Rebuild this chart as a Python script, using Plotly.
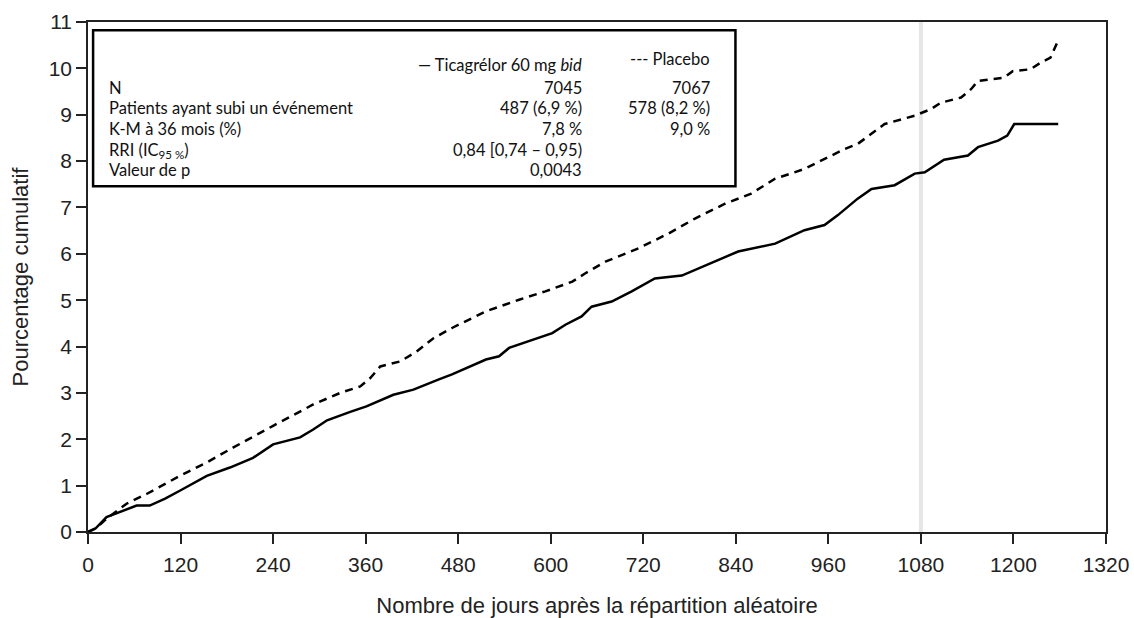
import plotly.graph_objects as go

# ---- data ----
ticag_days = [0, 10, 24, 45, 63, 80, 100, 119, 154, 184, 214, 240, 275, 292, 310, 340, 361, 396, 422,
              455, 472, 516, 533, 546, 602, 619, 640, 653, 679, 705, 735, 770, 796, 843, 891, 929, 955,
              972, 998, 1016, 1046, 1072, 1085, 1110, 1141, 1154, 1180, 1192, 1201, 1258]
ticag_vals = [0, 0.08, 0.32, 0.45, 0.57, 0.57, 0.72, 0.89, 1.21, 1.39, 1.60, 1.89, 2.04, 2.21, 2.41, 2.59,
              2.71, 2.96, 3.07, 3.29, 3.40, 3.72, 3.79, 3.97, 4.29, 4.47, 4.65, 4.86, 4.97, 5.19, 5.47,
              5.53, 5.72, 6.05, 6.22, 6.51, 6.62, 6.83, 7.19, 7.40, 7.48, 7.73, 7.76, 8.03, 8.12, 8.30,
              8.44, 8.55, 8.80, 8.80]

placebo_days = [0, 10, 25, 50, 76, 119, 154, 188, 240, 292, 327, 353, 366, 379, 405, 426, 448, 472, 516,
                559, 593, 628, 645, 671, 714, 753, 787, 826, 860, 891, 929, 981, 998, 1033, 1072, 1093,
                1106, 1132, 1145, 1154, 1188, 1199, 1222, 1235, 1248, 1254, 1257]
placebo_vals = [0, 0.08, 0.30, 0.61, 0.82, 1.21, 1.50, 1.82, 2.29, 2.75, 3.00, 3.14, 3.32, 3.57, 3.68,
                3.89, 4.18, 4.40, 4.76, 5.01, 5.19, 5.40, 5.58, 5.83, 6.12, 6.44, 6.76, 7.08, 7.30, 7.62,
                7.83, 8.26, 8.37, 8.80, 8.98, 9.12, 9.26, 9.37, 9.55, 9.73, 9.80, 9.94, 9.98, 10.12,
                10.23, 10.45, 10.57]

x_ticks = list(range(0, 1321, 120))
y_ticks = list(range(0, 12))
ref_day = 1080

row_labels = ["N", "Patients ayant subi un événement", "K-M à 36 mois (%)",
              "RRI (IC<sub>95 %</sub>)", "Valeur de p"]
col_ticag = ["7045", "487 (6,9 %)", "7,8 %", "0,84 [0,74 – 0,95)", "0,0043"]
col_placebo = ["7067", "578 (8,2 %)", "9,0 %", "", ""]
header_ticag = "— Ticagrélor 60 mg <i>bid</i>"
header_placebo = "--- Placebo"

fig = go.Figure()

fig.add_trace(go.Scatter(x=ticag_days, y=ticag_vals, mode="lines",
                         line=dict(color="black", width=2.5), showlegend=False))
fig.add_trace(go.Scatter(x=placebo_days, y=placebo_vals, mode="lines",
                         line=dict(color="black", width=2.5, dash="8px,6px"), showlegend=False))

# light reference line at 1080 days
fig.add_shape(type="line", xref="x", yref="paper", x0=ref_day, x1=ref_day, y0=0, y1=1,
              line=dict(color="#e6e6e6", width=4), layer="below")

# statistics box
fig.add_shape(type="rect", xref="paper", yref="paper", x0=0.005, x1=0.636, y0=0.678, y1=0.984,
              line=dict(color="black", width=2.5), fillcolor="white", layer="above")

tfont = dict(family="Lato, Open Sans, sans-serif", size=16.5, color="#111")
row_y = [0.871, 0.831, 0.790, 0.749, 0.710]
xl, x1r, x2r = 0.0187, 0.487, 0.613

fig.add_annotation(xref="paper", yref="paper", x=x1r, y=0.915, text=header_ticag, showarrow=False,
                   xanchor="right", yanchor="middle", font=tfont)
fig.add_annotation(xref="paper", yref="paper", x=x2r, y=0.928, text=header_placebo, showarrow=False,
                   xanchor="right", yanchor="middle", font=tfont)
for lab, a, b, yy in zip(row_labels, col_ticag, col_placebo, row_y):
    fig.add_annotation(xref="paper", yref="paper", x=xl, y=yy, text=lab, showarrow=False,
                       xanchor="left", yanchor="middle", font=tfont)
    fig.add_annotation(xref="paper", yref="paper", x=x1r, y=yy, text=a, showarrow=False,
                       xanchor="right", yanchor="middle", font=tfont)
    if b:
        fig.add_annotation(xref="paper", yref="paper", x=x2r, y=yy, text=b, showarrow=False,
                           xanchor="right", yanchor="middle", font=tfont)

tickfont = dict(family="Liberation Sans, Arial, sans-serif", size=21, color="#222")
titlefont = dict(family="Liberation Sans, Arial, sans-serif", size=22, color="#222")

fig.update_layout(
    width=1134, height=618,
    margin=dict(l=88, r=28, t=22, b=86),
    plot_bgcolor="white", paper_bgcolor="white",
    xaxis=dict(range=[0, 1320], tickvals=x_ticks, ticktext=[str(v) for v in x_ticks],
               automargin=False,
               showgrid=False, zeroline=False, showline=True, linecolor="#222", linewidth=1.5,
               mirror=True, ticks="outside", ticklen=10, tickwidth=1.5, tickcolor="#222",
               tickfont=tickfont, ticklabelstandoff=3,
               title=dict(text="Nombre de jours après la répartition aléatoire", font=titlefont, standoff=26)),
    yaxis=dict(range=[0, 11], tickvals=y_ticks, ticktext=[str(v) for v in y_ticks],
               automargin=False,
               showgrid=False, zeroline=False, showline=True, linecolor="#222", linewidth=1.5,
               mirror=True, ticks="outside", ticklen=10, tickwidth=1.5, tickcolor="#222",
               tickfont=tickfont,
               title=dict(text="Pourcentage cumulatif", font=titlefont, standoff=14)),
)

fig.write_html("out.html")
